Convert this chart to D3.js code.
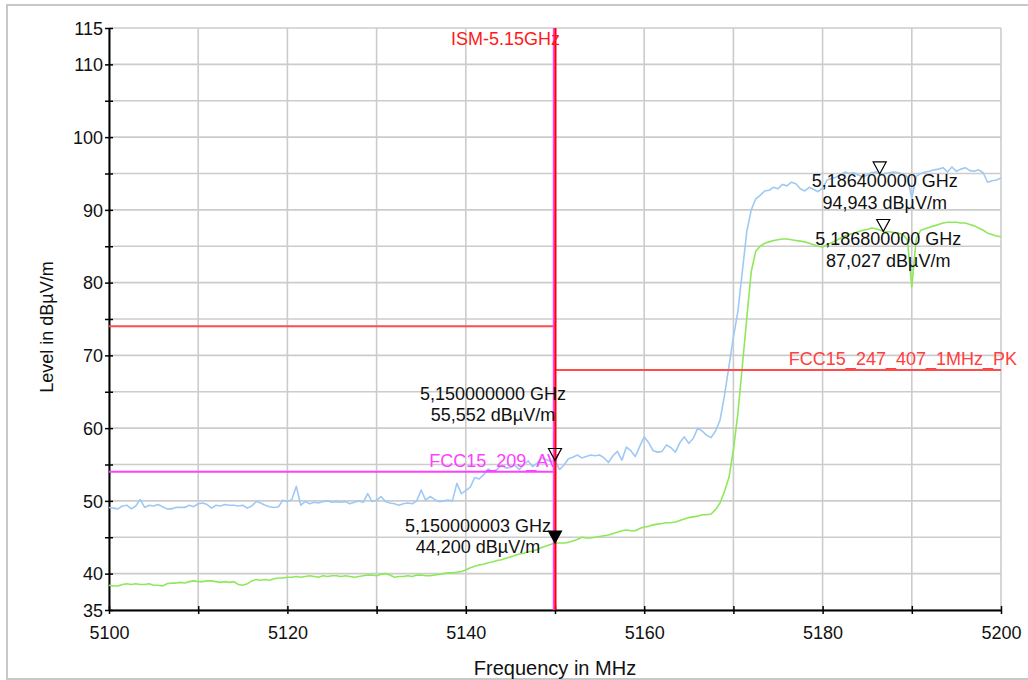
<!DOCTYPE html>
<html><head><meta charset="utf-8">
<script src="https://cdn.jsdelivr.net/npm/d3@7"></script>
<style>
html,body{margin:0;padding:0;background:#fff;}
svg{display:block;font-family:"Liberation Sans",Arial,sans-serif;}
</style></head>
<body>
<svg id="chart" width="1028" height="680"></svg>
<script>
// ---------- data ----------
const freqStart = 5100, freqStep = 0.5; // MHz grid of trace points
const peakTrace = [
49.1,49.0,48.9,49.3,49.4,48.9,49.3,50.2,49.1,49.4,
49.3,49.5,49.2,48.9,48.9,49.1,49.1,49.1,49.4,49.2,
49.6,49.7,49.5,49.0,49.4,49.3,49.5,49.4,49.4,49.3,
49.4,49.0,49.3,49.9,49.7,49.4,49.2,49.1,49.2,50.1,
49.9,50.2,52.0,49.4,49.9,49.6,49.8,49.7,49.9,50.0,
49.8,49.9,49.8,49.9,49.6,49.8,50.0,49.8,51.0,49.9,
50.1,50.6,49.9,49.7,49.6,49.4,49.6,49.7,49.6,50.0,
51.5,50.1,50.6,50.2,49.9,50.0,50.1,50.0,52.4,51.0,
51.4,51.9,53.2,53.0,53.6,54.4,54.0,54.3,54.9,54.5,
54.6,54.9,54.3,55.0,55.5,54.7,55.2,55.9,55.7,55.4,
55.55,54.3,54.9,55.8,56.0,56.3,55.9,56.1,56.3,56.2,
56.3,55.9,55.3,56.2,56.8,55.6,57.4,56.9,56.1,57.5,
58.8,58.0,56.9,56.7,56.8,57.7,57.3,56.7,58.0,58.8,
57.9,58.6,60.0,59.6,59.0,58.7,59.6,61.1,64.5,68.5,
72.5,76.0,81.5,87.0,90.0,91.5,92.0,92.6,92.7,93.1,
92.9,93.5,93.3,93.8,93.6,92.9,92.6,93.1,92.8,92.5,
93.0,94.1,94.3,94.5,94.8,95.2,95.0,95.1,94.8,94.5,
94.8,95.1,95.2,94.9,95.0,95.1,95.2,95.1,94.9,94.5,
91.6,94.6,95.0,95.2,95.3,95.5,95.6,95.8,95.2,95.9,
95.3,95.6,95.8,95.4,95.3,95.5,95.1,93.8,94.0,94.1,
94.4];
const avgTrace = [
38.4,38.3,38.3,38.5,38.6,38.5,38.6,38.5,38.5,38.6,
38.4,38.4,38.3,38.6,38.7,38.7,38.8,38.7,38.9,39.0,
38.9,38.9,39.0,39.0,38.9,38.8,38.9,38.8,38.9,38.5,
38.4,38.6,39.0,39.2,39.1,39.2,39.1,39.3,39.4,39.4,
39.5,39.5,39.6,39.5,39.6,39.7,39.6,39.5,39.7,39.6,
39.7,39.7,39.6,39.7,39.6,39.5,39.6,39.7,39.8,39.8,
39.7,39.9,40.0,39.8,39.5,39.6,39.6,39.7,39.6,39.8,
39.8,39.7,39.7,39.8,39.9,40.0,40.1,40.1,40.2,40.3,
40.5,40.8,41.0,41.2,41.3,41.5,41.6,41.8,41.9,42.1,
42.3,42.5,42.7,42.8,43.0,43.1,43.3,43.6,43.8,44.0,
44.2,44.2,44.2,44.3,44.5,44.7,45.0,44.9,44.9,45.0,
45.1,45.2,45.3,45.5,45.7,45.9,46.0,45.9,45.9,46.2,
46.4,46.5,46.7,46.8,46.9,47.0,47.0,47.1,47.3,47.5,
47.7,47.8,47.9,48.1,48.1,48.2,48.8,49.7,51.3,53.2,
57.0,62.0,68.5,75.1,81.5,84.3,85.0,85.4,85.6,85.8,
85.9,86.0,86.0,85.9,85.8,85.7,85.6,85.4,85.2,85.0,
84.9,85.2,85.5,85.8,86.1,86.4,86.6,86.8,87.0,87.2,
87.3,87.5,87.4,87.2,87.0,87.0,86.9,86.8,86.6,85.9,
79.4,86.0,87.2,87.4,87.6,87.8,88.0,88.2,88.3,88.3,
88.3,88.2,88.2,88.0,87.8,87.5,87.2,86.8,86.6,86.4,
86.3];

const limitNames  = ["FCC15_209_AV", "", "FCC15_247_407_1MHz_PK"];
const limitFrom   = [5100, 5100, 5150];
const limitTo     = [5150, 5150, 5200];
const limitLevels = [54, 74, 68];

const ismFreq = 5150, ismLabel = "ISM-5.15GHz";

const markerFreqs  = [5150.0, 5150.000003, 5186.4, 5186.8];
const markerLevels = [55.552, 44.200, 94.943, 87.027];
const markerFilled = [false, true, false, false];
const markerLine1  = ["5,150000000 GHz", "5,150000003 GHz", "5,186400000 GHz", "5,186800000 GHz"];
const markerLine2  = ["55,552 dBµV/m", "44,200 dBµV/m", "94,943 dBµV/m", "87,027 dBµV/m"];

const yTickValues = [35,40,45,50,55,60,65,70,75,80,85,90,95,100,105,110,115];
const yTickLabels = ["35","40","","50","","60","","70","","80","","90","","100","","110","115"];
const xTickValues = [5100,5110,5120,5130,5140,5150,5160,5170,5180,5190,5200];
const xTickLabels = ["5100","","5120","","5140","","5160","","5180","","5200"];

// ---------- drawing ----------
const svg = d3.select("#chart");
const W = 1028, H = 680;
const L = 109, R = 1001, T = 28, B = 610;
const x = d3.scaleLinear().domain([5100, 5200]).range([L, R]);
const y = d3.scaleLinear().domain([35, 115]).range([B, T]);

// outer frame
svg.append("rect").attr("x", 7).attr("y", 5).attr("width", W + 10).attr("height", 674)
  .attr("fill", "#fff").attr("stroke", "#c8c8c8").attr("stroke-width", 2);

// grid
const grid = svg.append("g");
grid.selectAll("line.h").data(yTickValues).join("line")
  .attr("x1", L).attr("x2", R).attr("y1", d => y(d)).attr("y2", d => y(d))
  .attr("stroke", "#cccccc").attr("stroke-width", 1.6);
grid.selectAll("line.v").data(xTickValues).join("line")
  .attr("y1", T).attr("y2", B).attr("x1", d => x(d)).attr("x2", d => x(d))
  .attr("stroke", "#cccccc").attr("stroke-width", 1.6);

// axes
const yAxis = d3.axisLeft(y).tickValues(yTickValues)
  .tickFormat((d, i) => yTickLabels[i]).tickSizeInner(4).tickSizeOuter(0).tickPadding(3);
const gy = svg.append("g").attr("transform", `translate(${L},0)`).call(yAxis);
gy.select(".domain").attr("stroke", "#000").attr("stroke-width", 2);
gy.selectAll(".tick line").attr("stroke", "#000").attr("stroke-width", 1.5)
  .attr("x1", 4).attr("x2", -4);
gy.selectAll(".tick text").attr("font-size", 18).attr("fill", "#111")
  .attr("font-family", "Liberation Sans, Arial, sans-serif").attr("x", -6).attr("dy", "0.35em");

const xAxis = d3.axisBottom(x).tickValues(xTickValues)
  .tickFormat((d, i) => xTickLabels[i]).tickSizeInner(4).tickSizeOuter(0).tickPadding(3);
const gx = svg.append("g").attr("transform", `translate(0,${B})`).call(xAxis);
gx.select(".domain").attr("stroke", "#000").attr("stroke-width", 2);
gx.selectAll(".tick line").attr("stroke", "#000").attr("stroke-width", 1.5)
  .attr("y1", -4).attr("y2", 4);
gx.selectAll(".tick text").attr("font-size", 18).attr("fill", "#111")
  .attr("font-family", "Liberation Sans, Arial, sans-serif").attr("y", 16).attr("dy", "0.71em");

// axis titles
svg.append("text").attr("x", (L + R) / 2).attr("y", 675).attr("text-anchor", "middle")
  .attr("font-size", 20).attr("fill", "#111").text("Frequency in MHz");
svg.append("text").attr("transform", "translate(53,327) rotate(-90)").attr("text-anchor", "middle")
  .attr("font-size", 18).attr("fill", "#111").text("Level in dBµV/m");

// traces
const line = d3.line().x((d, i) => x(freqStart + i * freqStep)).y(d => y(d));
svg.append("path").datum(avgTrace).attr("d", line).attr("fill", "none")
  .attr("stroke", "#8fe85a").attr("stroke-width", 1.6).attr("stroke-linejoin", "round");
svg.append("path").datum(peakTrace).attr("d", line).attr("fill", "none")
  .attr("stroke", "#9ec9f5").attr("stroke-width", 1.6).attr("stroke-linejoin", "round");

// limit lines
const limitColors = ["#ff40ff", "#ff4d4d", "#ff4d4d"];
limitLevels.forEach((lv, i) => {
  svg.append("line").attr("x1", x(limitFrom[i])).attr("x2", x(limitTo[i]))
    .attr("y1", y(lv)).attr("y2", y(lv)).attr("stroke", limitColors[i]).attr("stroke-width", 2);
});
// limit labels
svg.append("text").attr("x", x(limitTo[0]) + 4).attr("y", y(limitLevels[0]) - 5)
  .attr("text-anchor", "end").attr("font-size", 18).attr("fill", "#ff40ff").text(limitNames[0]);
svg.append("text").attr("x", R + 16).attr("y", y(limitLevels[2]) - 5)
  .attr("text-anchor", "end").attr("font-size", 18).attr("fill", "#ff4040").text(limitNames[2]);

// ISM vertical line
svg.append("line").attr("x1", x(ismFreq) - 1.2).attr("x2", x(ismFreq) - 1.2).attr("y1", T).attr("y2", B)
  .attr("stroke", "#ff40ff").attr("stroke-width", 2);
svg.append("line").attr("x1", x(ismFreq) + 0.5).attr("x2", x(ismFreq) + 0.5).attr("y1", T).attr("y2", B)
  .attr("stroke", "#ff0000").attr("stroke-width", 2);
svg.append("text").attr("x", x(ismFreq) + 5).attr("y", 45).attr("text-anchor", "end")
  .attr("font-size", 18).attr("fill", "#ff1a1a").text(ismLabel);

// markers
const labelDX = [-62, -77, 5, 5];
const labelDY1 = [-60, -11, 13, 13];
const labelDY2 = [-39, 10, 35, 35];
markerFreqs.forEach((f, i) => {
  const px = x(f), py = y(markerLevels[i]);
  svg.append("path")
    .attr("d", `M${px},${py} L${px - 6.5},${py - 12} L${px + 6.5},${py - 12} Z`)
    .attr("fill", markerFilled[i] ? "#000" : "none")
    .attr("stroke", "#000").attr("stroke-width", 1.2);
  svg.append("text").attr("x", px + labelDX[i]).attr("y", py + labelDY1[i])
    .attr("text-anchor", "middle").attr("font-size", 18).attr("fill", "#111").text(markerLine1[i]);
  svg.append("text").attr("x", px + labelDX[i]).attr("y", py + labelDY2[i])
    .attr("text-anchor", "middle").attr("font-size", 18).attr("fill", "#111").text(markerLine2[i]);
});
</script>
</body></html>
